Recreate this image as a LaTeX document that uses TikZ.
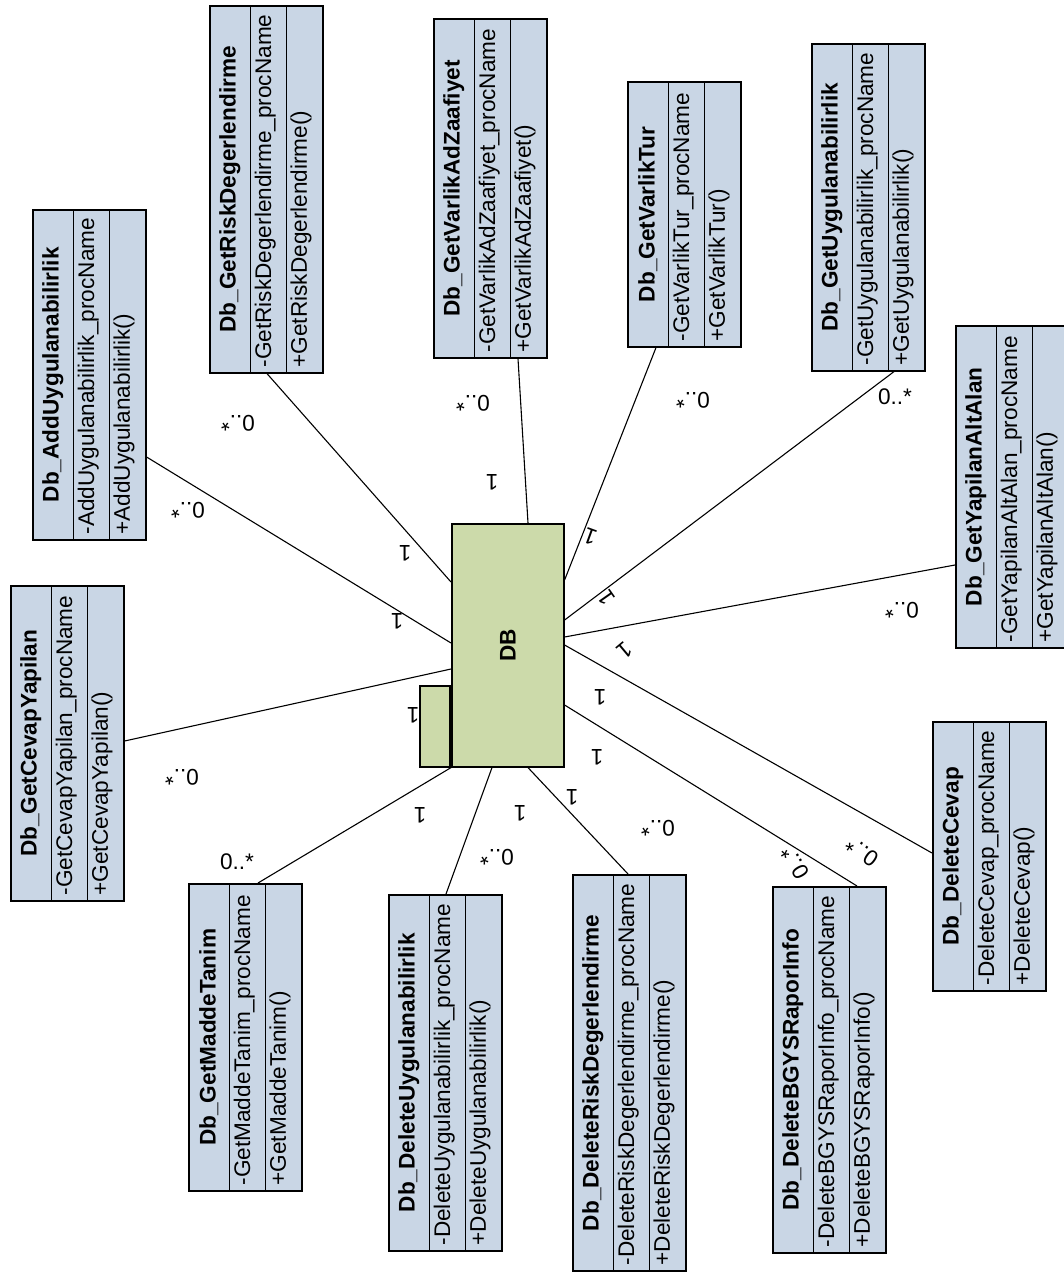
\documentclass[tikz,border=0pt]{standalone}
\usepackage{fontspec}
\setmainfont{Liberation Sans}
\usetikzlibrary{calc}
\definecolor{clsfill}{RGB}{201,214,229}
\definecolor{dbfill}{RGB}{204,218,170}
\tikzset{
  clsbox/.style={rectangle, draw=black, fill=clsfill, line width=1.6pt, inner sep=0pt},
  dbbox/.style={rectangle, draw=black, fill=dbfill, line width=1.6pt, inner sep=0pt},
  divider/.style={line width=1.6pt},
  link/.style={line width=1.1pt},
  txt/.style={inner sep=0pt, font=\fontsize{22.6}{27}\selectfont},
  titletxt/.style={inner sep=0pt, font=\fontsize{22.6}{27}\selectfont\bfseries},
  mult/.style={txt}
}
% class box drawn on its side: name, left, top, bottom, title, attribute, operation
\newcommand\classbox[7]{%
  \node[clsbox, minimum width=113pt, minimum height={(#4-#3)*1pt}, anchor=north west] (#1) at (#2,#3) {};
  \draw[divider] ($(#1.north west)+(41.5pt,0pt)$) -- ($(#1.south west)+(41.5pt,0pt)$);
  \draw[divider] ($(#1.north west)+(77.5pt,0pt)$) -- ($(#1.south west)+(77.5pt,0pt)$);
  \node[titletxt, rotate=90] (#1-title) at ($(#1.north west)!0.5!(#1.south west)+(20.75pt,0pt)$) {#5};
  \node[txt, rotate=90, anchor=mid west] (#1-attr) at ($(#1.south west)+(59.5pt,6pt)$) {#6};
  \node[txt, rotate=90, anchor=mid west] (#1-op) at ($(#1.south west)+(95.25pt,6pt)$) {#7};
}
\begin{document}
\begin{tikzpicture}[x=1pt, y=-1pt]
\fill[white] (0,0) rectangle (1064,1272);
\useasboundingbox (0,0) rectangle (1064,1272);

% central package
\node[dbbox, minimum width=30pt, minimum height=81pt, anchor=north east] (dbtab) at (451,685) {};
\node[dbbox, minimum width=112pt, minimum height=243pt, anchor=north west] (db) at (451,523) {};
\node[titletxt, rotate=90] (dblabel) at (db.center) {DB};

% classes
\classbox{risk}{209}{5}{372}{Db\_GetRiskDegerlendirme}{-GetRiskDegerlendirme\_procName}{+GetRiskDegerlendirme()}
\classbox{adduyg}{32}{209}{539}{Db\_AddUygulanabilirlik}{-AddUygulanabilirlik\_procName}{+AddUygulanabilirlik()}
\classbox{cevap}{10}{585}{900}{Db\_GetCevapYapilan}{-GetCevapYapilan\_procName}{+GetCevapYapilan()}
\classbox{varlikad}{433}{18}{357}{Db\_GetVarlikAdZaafiyet}{-GetVarlikAdZaafiyet\_procName}{+GetVarlikAdZaafiyet()}
\classbox{varliktur}{627}{81}{346}{Db\_GetVarlikTur}{-GetVarlikTur\_procName}{+GetVarlikTur()}
\classbox{getuyg}{811}{43}{370}{Db\_GetUygulanabilirlik}{-GetUygulanabilirlik\_procName}{+GetUygulanabilirlik()}
\classbox{yapilan}{955}{325}{647}{Db\_GetYapilanAltAlan}{-GetYapilanAltAlan\_procName}{+GetYapilanAltAlan()}
\classbox{delcevap}{932}{721}{990}{Db\_DeleteCevap}{-DeleteCevap\_procName}{+DeleteCevap()}
\classbox{delbgys}{772}{886}{1252}{Db\_DeleteBGYSRaporInfo}{-DeleteBGYSRaporInfo\_procName}{+DeleteBGYSRaporInfo()}
\classbox{delrisk}{572}{874}{1270}{Db\_DeleteRiskDegerlendirme}{-DeleteRiskDegerlendirme\_procName}{+DeleteRiskDegerlendirme()}
\classbox{deluyg}{388}{894}{1250}{Db\_DeleteUygulanabilirlik}{-DeleteUygulanabilirlik\_procName}{+DeleteUygulanabilirlik()}
\classbox{madde}{188}{883}{1190}{Db\_GetMaddeTanim}{-GetMaddeTanim\_procName}{+GetMaddeTanim()}

% associations
\draw[link] ($(risk.south west)+(58pt,0pt)$) -- ($(db.north west)+(0pt,-59pt)$);
\draw[link] ($(adduyg.north east)+(0pt,-248pt)$) -- ($(db.north west)+(0pt,-120pt)$);
\draw[link] ($(cevap.north east)+(0pt,-156pt)$) -- ($(db.north west)+(0pt,-146pt)$);
\draw[link] ($(varlikad.south west)+(85pt,0pt)$) -- ($(db.north west)+(77pt,0pt)$);
\draw[link] ($(varliktur.south west)+(29pt,0pt)$) -- ($(db.north east)+(0pt,-57pt)$);
\draw[link] ($(getuyg.south west)+(83pt,0pt)$) -- ($(db.north east)+(0pt,-97pt)$);
\draw[link] ($(yapilan.north west)+(0pt,-240pt)$) -- ($(db.north east)+(0pt,-114pt)$);
\draw[link] ($(delcevap.north west)+(0pt,-132pt)$) -- ($(db.north east)+(0pt,-122pt)$);
\draw[link] ($(delbgys.north west)+(85pt,0pt)$) -- ($(db.north east)+(0pt,-182pt)$);
\draw[link] ($(delrisk.north west)+(56pt,0pt)$) -- ($(db.south west)+(77pt,0pt)$);
\draw[link] ($(deluyg.north west)+(58pt,0pt)$) -- ($(db.south west)+(41pt,0pt)$);
\draw[link] ($(madde.north west)+(70pt,0pt)$) -- (db.south west);

% multiplicities at the package end
\node[mult, rotate=180] (m-risk) at (405,553) {1};
\node[mult, rotate=180] (m-adduyg) at (397,621) {1};
\node[mult, rotate=180] (m-cevap) at (413,715) {1};
\node[mult, rotate=180] (m-varlikad) at (492,482) {1};
\node[mult, rotate=160] (m-varliktur) at (590,537) {1};
\node[mult, rotate=125] (m-getuyg) at (607,598) {1};
\node[mult, rotate=220] (m-yapilan) at (625,650) {1};
\node[mult, rotate=180] (m-delcevap) at (600,697) {1};
\node[mult, rotate=180] (m-delbgys) at (597,757) {1};
\node[mult, rotate=180] (m-delrisk) at (572,797) {1};
\node[mult, rotate=180] (m-deluyg) at (520,813) {1};
\node[mult, rotate=180] (m-madde) at (420,815) {1};

% multiplicities at the class end
\node[mult, rotate=180] (n-risk) at (238,423) {0..*};
\node[mult, rotate=180] (n-adduyg) at (188,510) {0..*};
\node[mult, rotate=180] (n-cevap) at (182,777) {0..*};
\node[mult, rotate=180] (n-varlikad) at (473,403) {0..*};
\node[mult, rotate=180] (n-varliktur) at (693,400) {0..*};
\node[mult] (n-getuyg) at (895,397) {0..*};
\node[mult, rotate=180] (n-yapilan) at (902,610) {0..*};
\node[mult, rotate=145] (n-delcevap) at (862,852) {0..*};
\node[mult, rotate=120] (n-delbgys) at (795,863) {0..*};
\node[mult, rotate=180] (n-delrisk) at (658,828) {0..*};
\node[mult, rotate=180] (n-deluyg) at (497,857) {0..*};
\node[mult] (n-madde) at (237,862) {0..*};
\end{tikzpicture}
\end{document}
